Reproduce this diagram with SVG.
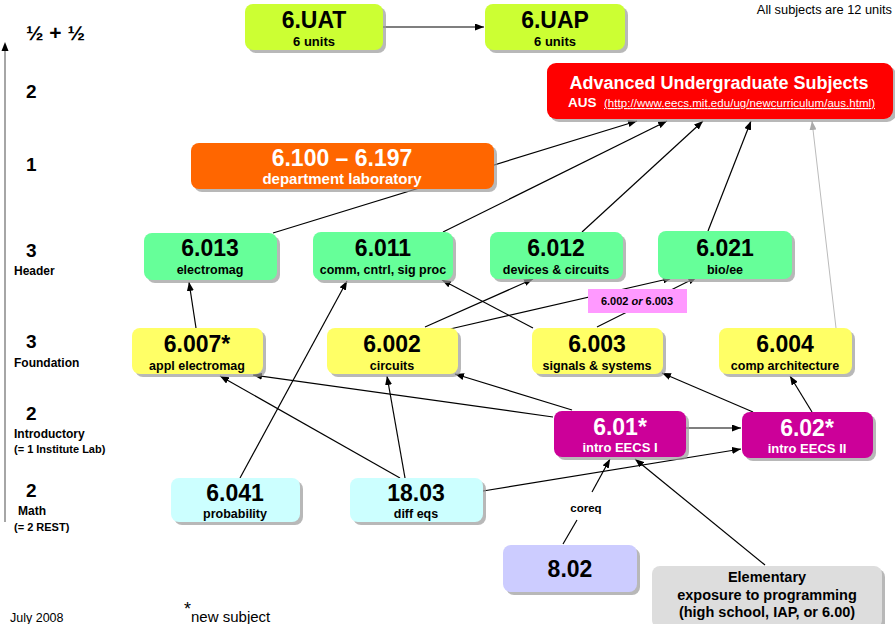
<svg xmlns="http://www.w3.org/2000/svg" width="895" height="624" viewBox="0 0 895 624">
<defs>
<marker id="ah" viewBox="0 0 9 7" refX="9" refY="3.5" markerWidth="9" markerHeight="7" orient="auto" markerUnits="userSpaceOnUse"><path d="M0,0 L9,3.5 L0,7 z" fill="#000"/></marker>
<marker id="ahg" viewBox="0 0 9 7" refX="9" refY="3.5" markerWidth="9" markerHeight="7" orient="auto" markerUnits="userSpaceOnUse"><path d="M0,0 L9,3.5 L0,7 z" fill="#aaa"/></marker>
<style>
text{font-family:"Liberation Sans",Arial,sans-serif;}
.b{font-weight:bold;}
.sh{fill:#9a9a9a;opacity:0.7;}
.main{font-size:23px;font-weight:bold;text-anchor:middle;fill:#000;}
.sub{font-size:12.5px;font-weight:bold;text-anchor:middle;fill:#000;}
.w{fill:#fff;}
.lvl{font-size:19px;font-weight:bold;}
.cat{font-size:12px;font-weight:bold;}
.cn line,.cn path{stroke:#000;stroke-width:1.2;fill:none;}
.cn .a{marker-end:url(#ah);}
.cn .g{stroke:#bbb;stroke-width:1;marker-end:url(#ahg);}
</style>
</defs>
<rect width="895" height="624" fill="#fff"/>

<!-- axis and level labels -->
<g id="axis">
<line x1="5" y1="522" x2="5" y2="50" stroke="#888" stroke-width="1.5"/>
<path d="M5,42 L1.5,51 L8.5,51 z" fill="#000"/>
<text class="lvl" x="26" y="40" style="font-size:21px">½ + ½</text>
<text class="lvl" x="26" y="98">2</text>
<text class="lvl" x="26" y="171">1</text>
<text class="lvl" x="26" y="257">3</text>
<text class="cat" x="14" y="275">Header</text>
<text class="lvl" x="26" y="348">3</text>
<text class="cat" x="14" y="367">Foundation</text>
<text class="lvl" x="26" y="420">2</text>
<text class="cat" x="14" y="438">Introductory</text>
<text class="cat" x="14" y="453" style="font-size:11px">(= 1 Institute Lab)</text>
<text class="lvl" x="26" y="497">2</text>
<text class="cat" x="18" y="515">Math</text>
<text class="cat" x="14" y="531" style="font-size:11px">(= 2 REST)</text>
</g>

<text x="892" y="14" text-anchor="end" style="font-size:12.8px">All subjects are 12 units</text>
<text x="10" y="622" style="font-size:12.5px">July 2008</text>
<text x="184" y="622" style="font-size:15px"><tspan dy="-7" style="font-size:18px">*</tspan><tspan dy="7">new subject</tspan></text>

<g id="connectors" class="cn">
<line class="a" x1="383" y1="27" x2="484" y2="27"/>
<line class="a" x1="273" y1="233" x2="637" y2="121"/>
<line class="a" x1="443" y1="232" x2="667" y2="121"/>
<line class="a" x1="582" y1="232" x2="703" y2="121"/>
<line class="a" x1="708" y1="231" x2="751" y2="121"/>
<line class="g" x1="836" y1="328" x2="812" y2="121"/>
<line class="a" x1="196" y1="328" x2="189" y2="282"/>
<line class="a" x1="240" y1="478" x2="347" y2="281"/>
<line class="a" x1="533" y1="328" x2="442" y2="280"/>
<line class="a" x1="425" y1="327" x2="533" y2="279"/>
<line class="a" x1="450" y1="329" x2="672" y2="278"/>
<line class="a" x1="597" y1="327" x2="697" y2="277"/>
<line class="a" x1="553" y1="417" x2="253" y2="375"/>
<line class="a" x1="572" y1="410" x2="455" y2="374"/>
<line class="a" x1="753" y1="412" x2="662" y2="373"/>
<line class="a" x1="812" y1="412" x2="790" y2="376"/>
<line class="a" x1="686" y1="428" x2="741" y2="428"/>
<line class="a" x1="483" y1="491" x2="741" y2="449"/>
<line class="a" x1="400" y1="478" x2="220" y2="376"/>
<line class="a" x1="405" y1="478" x2="387" y2="376"/>
<line x1="563" y1="544" x2="577" y2="520"/>
<line class="a" x1="592" y1="492" x2="610" y2="459"/>
<line class="a" x1="765" y1="565" x2="635" y2="459"/>
</g>

<g id="n6UAT">
<rect class="sh" x="248" y="7" width="138" height="46" rx="8"/>
<rect x="245" y="4" width="138" height="46" rx="8" fill="#CCFF33"/>
<text class="main" x="314" y="28">6.UAT</text>
<text class="sub" x="314" y="46" style="font-size:13px">6 units</text>
</g>
<g id="n6UAP">
<rect class="sh" x="488" y="7" width="140" height="46" rx="8"/>
<rect x="485" y="4" width="140" height="46" rx="8" fill="#CCFF33"/>
<text class="main" x="555" y="28">6.UAP</text>
<text class="sub" x="555" y="46" style="font-size:13px">6 units</text>
</g>
<g id="nAUS">
<rect class="sh" x="550" y="66" width="346" height="56" rx="9"/>
<rect x="547" y="63" width="346" height="56" rx="9" fill="#FF0000"/>
<text class="main w" x="719" y="89" style="font-size:18px">Advanced Undergraduate Subjects</text>
<text x="568" y="107" style="font-size:13.5px;font-weight:bold;fill:#fff">AUS</text>
<text x="604" y="107" textLength="271" style="font-size:11.5px;fill:#fff;text-decoration:underline">(http://www.eecs.mit.edu/ug/newcurriculum/aus.html)</text>
</g>
<g id="n6100">
<rect class="sh" x="194" y="146" width="303" height="46" rx="8"/>
<rect x="191" y="143" width="303" height="46" rx="8" fill="#FF6600"/>
<text class="main w" x="342" y="166">6.100 – 6.197</text>
<text class="sub w" x="342" y="184" style="font-size:15px">department laboratory</text>
</g>

<g id="n6013">
<rect class="sh" x="147" y="236" width="133" height="47" rx="8"/>
<rect x="144" y="233" width="133" height="47" rx="8" fill="#66FF99"/>
<text class="main" x="210" y="256">6.013</text>
<text class="sub" x="210" y="274">electromag</text>
</g>
<g id="n6011">
<rect class="sh" x="316" y="235" width="140" height="48" rx="8"/>
<rect x="313" y="232" width="140" height="48" rx="8" fill="#66FF99"/>
<text class="main" x="383" y="256">6.011</text>
<text class="sub" x="383" y="274">comm, cntrl, sig proc</text>
</g>
<g id="n6012">
<rect class="sh" x="493" y="235" width="133" height="47" rx="8"/>
<rect x="490" y="232" width="133" height="47" rx="8" fill="#66FF99"/>
<text class="main" x="556" y="256">6.012</text>
<text class="sub" x="556" y="274">devices &amp; circuits</text>
</g>
<g id="n6021">
<rect class="sh" x="661" y="234" width="134" height="48" rx="8"/>
<rect x="658" y="231" width="134" height="48" rx="8" fill="#66FF99"/>
<text class="main" x="725" y="256">6.021</text>
<text class="sub" x="725" y="274">bio/ee</text>
</g>

<g id="lbl-or">
<rect x="588" y="289" width="99" height="24" fill="#FF99FF"/>
<text x="637" y="305" text-anchor="middle" style="font-size:11px;font-weight:bold">6.002 <tspan font-style="italic">or</tspan> 6.003</text>
</g>

<g id="n6007">
<rect class="sh" x="135" y="331" width="131" height="46" rx="8"/>
<rect x="132" y="328" width="131" height="46" rx="8" fill="#FFFF66"/>
<text class="main" x="197" y="352">6.007*</text>
<text class="sub" x="197" y="370">appl electromag</text>
</g>
<g id="n6002">
<rect class="sh" x="330" y="331" width="131" height="46" rx="8"/>
<rect x="327" y="328" width="131" height="46" rx="8" fill="#FFFF66"/>
<text class="main" x="392" y="352">6.002</text>
<text class="sub" x="392" y="370">circuits</text>
</g>
<g id="n6003">
<rect class="sh" x="535" y="331" width="131" height="46" rx="8"/>
<rect x="532" y="328" width="131" height="46" rx="8" fill="#FFFF66"/>
<text class="main" x="597" y="352">6.003</text>
<text class="sub" x="597" y="370">signals &amp; systems</text>
</g>
<g id="n6004">
<rect class="sh" x="722" y="331" width="133" height="46" rx="8"/>
<rect x="719" y="328" width="133" height="46" rx="8" fill="#FFFF66"/>
<text class="main" x="785" y="352">6.004</text>
<text class="sub" x="785" y="370">comp architecture</text>
</g>

<g id="n601">
<rect class="sh" x="557" y="414" width="132" height="46" rx="8"/>
<rect x="554" y="411" width="132" height="46" rx="8" fill="#CC0099"/>
<text class="main w" x="620" y="435">6.01*</text>
<text class="sub w" x="620" y="452" style="font-size:13px">intro EECS I</text>
</g>
<g id="n602">
<rect class="sh" x="745" y="415" width="131" height="46" rx="8"/>
<rect x="742" y="412" width="131" height="46" rx="8" fill="#CC0099"/>
<text class="main w" x="807" y="436">6.02*</text>
<text class="sub w" x="807" y="453" style="font-size:13px">intro EECS II</text>
</g>

<g id="n6041">
<rect class="sh" x="174" y="481" width="129" height="44" rx="8"/>
<rect x="171" y="478" width="129" height="44" rx="8" fill="#CCFFFF"/>
<text class="main" x="235" y="501">6.041</text>
<text class="sub" x="235" y="518">probability</text>
</g>
<g id="n1803">
<rect class="sh" x="353" y="481" width="133" height="44" rx="8"/>
<rect x="350" y="478" width="133" height="44" rx="8" fill="#CCFFFF"/>
<text class="main" x="416" y="501">18.03</text>
<text class="sub" x="416" y="518">diff eqs</text>
</g>

<text x="586" y="512" text-anchor="middle" style="font-size:11.5px;font-weight:bold">coreq</text>

<g id="n802">
<rect class="sh" x="506" y="548" width="134" height="47" rx="8"/>
<rect x="503" y="545" width="134" height="47" rx="8" fill="#CCCCFF"/>
<text class="main" x="570" y="577">8.02</text>
</g>
<g id="nElem">
<rect class="sh" x="655" y="569" width="230" height="62" rx="8"/>
<rect x="652" y="566" width="230" height="62" rx="8" fill="#DDDDDD"/>
<text class="sub" x="767" y="582" style="font-size:14.5px">Elementary</text>
<text class="sub" x="767" y="600" style="font-size:14.5px">exposure to programming</text>
<text class="sub" x="767" y="617" style="font-size:14.5px">(high school, IAP, or 6.00)</text>
</g>
</svg>
